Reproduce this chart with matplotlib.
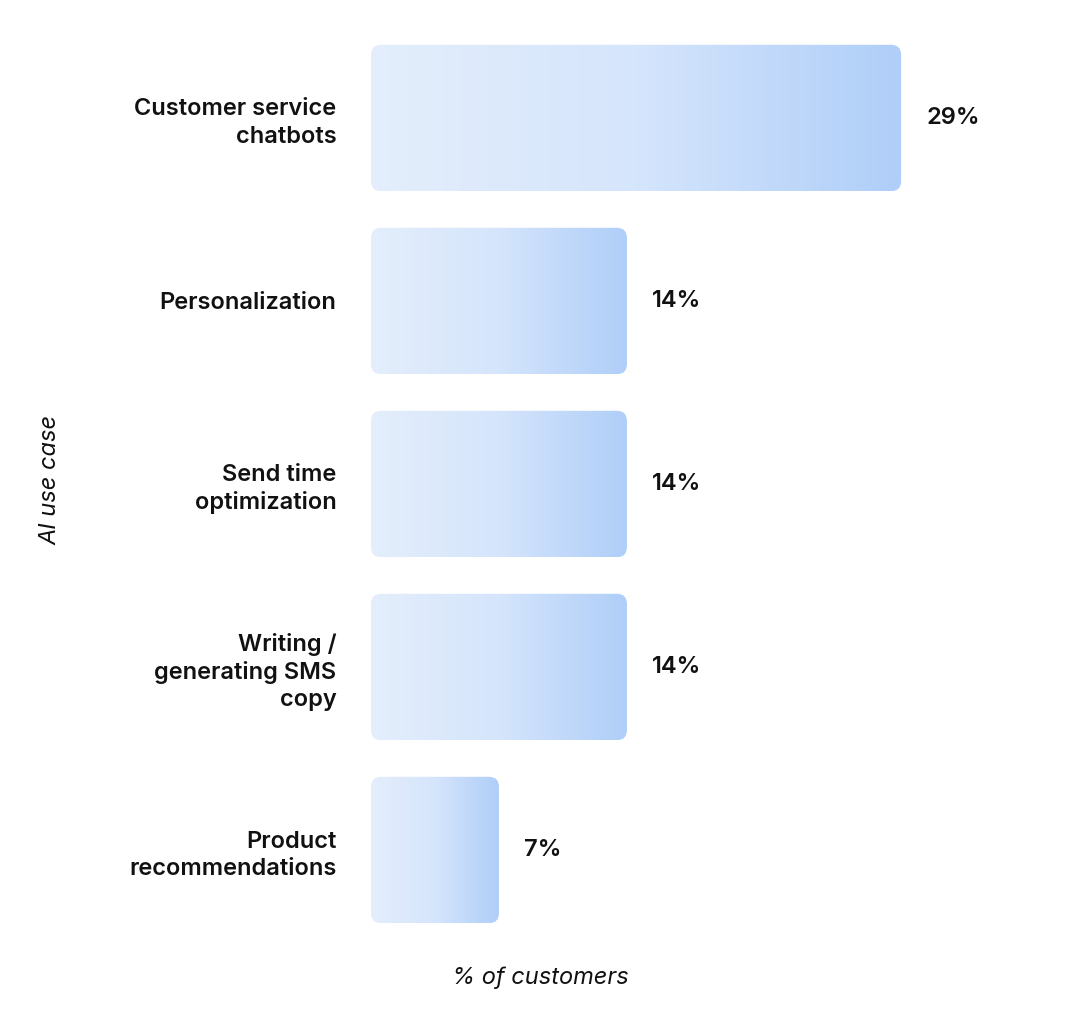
import matplotlib
matplotlib.use("Agg")
import matplotlib.pyplot as plt
import numpy as np
from matplotlib.patches import FancyBboxPatch
from matplotlib.colors import LinearSegmentedColormap

categories = ["Customer service\nchatbots", "Personalization", "Send time\noptimization",
              "Writing /\ngenerating SMS\ncopy", "Product\nrecommendations"]
values = [29, 14, 14, 14, 7]
labels = ["29%", "14%", "14%", "14%", "7%"]

plt.rcParams['font.family'] = ['Inter', 'DejaVu Sans']
W, H = 1088, 1030
fig = plt.figure(figsize=(W/100, H/100), dpi=100)
left, right, top, bottom = 371, 1040, 26.5, 941.5
ax = fig.add_axes([left/W, 1-bottom/H, (right-left)/W, (bottom-top)/H])
xmax = (right-left)/18.28
ax.set_xlim(0, xmax)
ax.set_ylim(4.5, -0.5)
cmap = LinearSegmentedColormap.from_list("g", ["#E4EEFB", "#D5E5FC", "#AFCEF8"])
grad = np.linspace(0, 1, 256).reshape(1, -1)
h = 0.8
for i, v in enumerate(values):
    p = FancyBboxPatch((0, i-h/2), v, h, boxstyle="round,pad=0,rounding_size=0.55",
                       mutation_aspect=18.28/183, ec="none", fc="none")
    ax.add_patch(p)
    im = ax.imshow(grad, cmap=cmap, extent=[0, v, i+h/2, i-h/2], aspect='auto', zorder=2)
    im.set_clip_path(p)
    ax.text(v + 25/18.28, i, labels[i], va='center', ha='left', fontsize=17, fontweight='semibold', color='#111111')
ax.set_xlim(0, xmax)
ax.set_ylim(4.5, -0.5)
ax.set_yticks(range(len(categories)))
ax.set_yticklabels(categories, fontsize=17, fontweight='semibold', color='#111111', linespacing=1.3)
ax.tick_params(axis='y', length=0, pad=25)
ax.set_xticks([])
for s in ax.spines.values():
    s.set_visible(False)
fig.text(540/W, 1-978/H, "% of customers", ha='center', va='center', fontsize=17, style='italic', color='#111111')
fig.text(50/W, 1-480/H, "AI use case", ha='center', va='center', rotation=90, fontsize=17, style='italic', color='#111111')
fig.savefig("out.png", dpi=100, facecolor='white')
